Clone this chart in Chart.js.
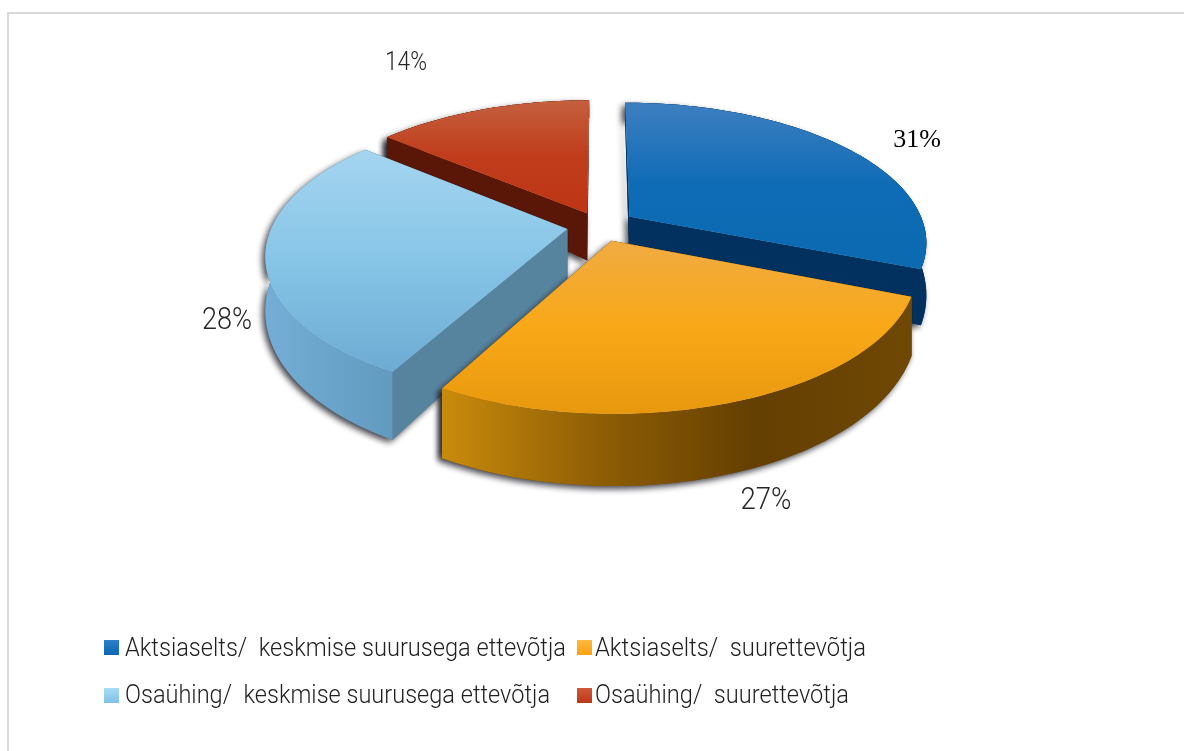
<!DOCTYPE html>
<html><head><meta charset="utf-8">
<style>html,body{margin:0;padding:0;background:#fff}canvas{display:block}
#frame{position:absolute;left:7px;top:12px;width:1300px;height:860px;border:2px solid #d9d9d9;box-sizing:border-box}
#wrap{position:relative;width:1184px;height:751px;overflow:hidden}</style>
</head><body><div id="wrap"><div id="frame"></div><canvas id="c" width="1184" height="751" style="position:absolute;left:0;top:0"></canvas></div>
<script src="https://cdn.jsdelivr.net/npm/chart.js@4"></script>
<script>
const categories = ['Aktsiaselts/  keskmise suurusega ettevõtja','Aktsiaselts/  suurettevõtja','Osaühing/  keskmise suurusega ettevõtja','Osaühing/  suurettevõtja'];
const shares = [31,27,28,14];
const tickLabels = ['31%','27%','28%','14%'];
const sliceOffsets = [26,24,24,22];
const swatch = ['#0f6cbd','#fba81a','#92cdf0','#c23b1e'];
const topShade = [['#3d7fc0','#0e6bb6','#0b6ab0'],['#f0ab42','#f9a817','#e8980e'],['#a4d5f0','#87c5e7','#6eabd3'],['#c4603f','#c03c1a','#bd3615']];
const cutShade = ['#02315f','#7a4f05','#56849f','#5a1606'];
const rimShade = [['#02315f','#02315f'],['#c98b0c','#8f5e05','#643f02','#6f4804'],['#74aed6','#5f97bb','#5b93b7'],['#5a1606','#5a1606']];
const swatchShade = [['#2f7fc8','#0b66b4'],['#fdb940','#f9a110'],['#a8dcf8','#80c0e6'],['#cf5a3c','#bd3615']];
const paintOrder = [3,0,2,1];
const labelStyle = [
 {x:917,y:140,font:'26px "Liberation Serif"',w:48},
 {x:766,y:501,font:'300 31px Roboto',w:51},
 {x:227,y:321,font:'300 31px Roboto',w:50},
 {x:406,y:63,font:'300 26px Roboto',w:42}];
const legendCells = [{x:104,y:640,base:656,tx:125,w:441},{x:577,y:640,base:656,tx:595,w:271},{x:104,y:688,base:703,tx:125,w:425},{x:577,y:688,base:703,tx:595,w:254}];
const view = {A:295,B:137,c:0.175,d0:50,d1:20,d2:30};

function project(arc,dx,dy,h){
  const R=arc.outerRadius, u=dx/R, v=dy/R, w=1-view.c*v;
  const depth=view.d0+(v>0?view.d1:view.d2)*v;
  return {x:arc.x+view.A*u/w, y:arc.y+view.B*v/w+h*depth};
}
function outline(arc){
  const R=arc.outerRadius, off=arc.options.offset||0, mid=(arc.startAngle+arc.endAngle)/2;
  const ox=Math.cos(mid)*off, oy=Math.sin(mid)*off, pts=[];
  const n=Math.max(8,Math.ceil((arc.endAngle-arc.startAngle)*40));
  for(let i=0;i<=n;i++){const a=arc.startAngle+(arc.endAngle-arc.startAngle)*i/n;pts.push([ox+Math.cos(a)*R,oy+Math.sin(a)*R]);}
  return {pts,apex:[ox,oy]};
}
function poly(ctx,list){ctx.beginPath();list.forEach((p,i)=>i?ctx.lineTo(p.x,p.y):ctx.moveTo(p.x,p.y));ctx.closePath();}
function hGrad(ctx,x0,x1,stops){const g=ctx.createLinearGradient(x0,0,x1,0);stops.forEach((c,i)=>g.addColorStop(i/(stops.length-1),c));return g;}

const pie3d={id:'pie3d',
 beforeDatasetsDraw(chart){
  const ctx=chart.ctx, arcs=chart.getDatasetMeta(0).data;
  paintOrder.forEach(i=>{
   const arc=arcs[i], {pts,apex}=outline(arc);
   const top=pts.map(p=>project(arc,p[0],p[1],0)), bot=pts.map(p=>project(arc,p[0],p[1],1));
   const a0=project(arc,apex[0],apex[1],0), a1=project(arc,apex[0],apex[1],1);
   const rim=top.concat(bot.slice().reverse());
   const xs=top.map(p=>p.x), ys=top.map(p=>p.y).concat(a0.y);
   const xmin=Math.min(...xs,a0.x), xmax=Math.max(...xs,a0.x), ymin=Math.min(...ys), ymax=Math.max(...ys);
   ctx.save();
   ctx.shadowColor='rgba(20,20,30,.8)';ctx.shadowBlur=6;ctx.shadowOffsetX=-3;ctx.shadowOffsetY=3;
   ctx.fillStyle=cutShade[i];
   poly(ctx,rim);ctx.fill();
   poly(ctx,[a0,top[0],bot[0],a1]);ctx.fill();
   poly(ctx,[a0,top[top.length-1],bot[bot.length-1],a1]);ctx.fill();
   ctx.restore();
   ctx.fillStyle=cutShade[i];
   poly(ctx,[a0,top[0],bot[0],a1]);ctx.fill();
   poly(ctx,[a0,top[top.length-1],bot[bot.length-1],a1]);ctx.fill();
   ctx.fillStyle=hGrad(ctx,xmin,xmax,rimShade[i]);
   poly(ctx,rim);ctx.fill();
   const g=ctx.createLinearGradient(0,ymin,0,ymax);
   topShade[i].forEach((c,k)=>g.addColorStop(k/(topShade[i].length-1),c));
   ctx.fillStyle=g;
   poly(ctx,[a0].concat(top));ctx.fill();
  });
  return false;
 },
 afterDraw(chart){
  const ctx=chart.ctx;
  ctx.save();
  ctx.textAlign='center';ctx.textBaseline='middle';
  tickLabels.forEach((t,i)=>{const s=labelStyle[i];ctx.font=s.font;ctx.fillStyle=i===0?'#000':'#262626';ctx.fillText(t,s.x,s.y,s.w);});
  ctx.textAlign='left';ctx.textBaseline='alphabetic';ctx.font='300 26px Roboto';
  chart.data.labels.forEach((t,i)=>{
   const c=legendCells[i];
   const g=ctx.createLinearGradient(0,c.y,0,c.y+15);
   g.addColorStop(0,swatchShade[i][0]);g.addColorStop(1,swatchShade[i][1]);
   ctx.fillStyle=g;ctx.fillRect(c.x,c.y,15,15);
   ctx.fillStyle='#1f1f1f';ctx.fillText(t,c.tx,c.base,c.w);
  });
  ctx.restore();
 }};

new Chart(document.getElementById('c'),{
 type:'pie',
 data:{labels:categories,datasets:[{data:shares,backgroundColor:swatch,offset:sliceOffsets,borderWidth:0}]},
 options:{responsive:false,animation:false,events:[],
  layout:{padding:{left:16,right:0,top:0,bottom:299}},
  plugins:{legend:{display:false},tooltip:{enabled:false}}},
 plugins:[pie3d]
});
</script></body></html>
